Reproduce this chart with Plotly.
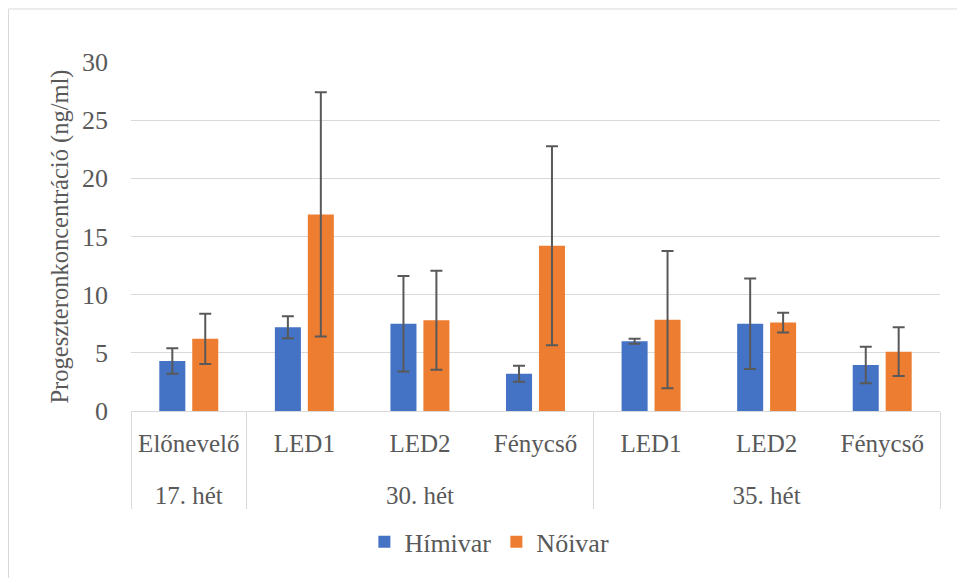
import plotly.graph_objects as go

# Groups (week) and light-source categories
weeks = ["17. hét", "30. hét", "30. hét", "30. hét", "35. hét", "35. hét", "35. hét"]
sources = ["Előnevelő", "LED1", "LED2", "Fénycső", "LED1", "LED2", "Fénycső"]

# Mean progesterone concentration (ng/ml) and standard deviations
male_mean = [4.3, 7.2, 7.5, 3.2, 6.0, 7.5, 3.95]
male_sd = [1.1, 0.95, 4.1, 0.68, 0.22, 3.88, 1.57]
female_mean = [6.2, 16.9, 7.8, 14.2, 7.85, 7.6, 5.1]
female_sd = [2.15, 10.5, 4.25, 8.55, 5.9, 0.85, 2.1]

y_ticks = [0, 5, 10, 15, 20, 25, 30]

FONT = "Liberation Serif, Times New Roman, serif"
TEXT = "#595959"
GRID = "#d9d9d9"
ERR = "#595959"
TICK_SIZE = 26
CAT_SIZE = 25

# the week row sits one line lower than the light-source row
x = [["<br>" + w for w in weeks], sources]

fig = go.Figure()
fig.add_trace(go.Bar(
    x=x, y=male_mean, name="Hímivar",
    marker=dict(color="#4472C4", line=dict(width=0)),
    error_y=dict(type="data", array=male_sd, visible=True,
                 color=ERR, thickness=2, width=6),
))
fig.add_trace(go.Bar(
    x=x, y=female_mean, name="Nőivar",
    marker=dict(color="#ED7D31", line=dict(width=0)),
    error_y=dict(type="data", array=female_sd, visible=True,
                 color=ERR, thickness=2, width=6),
))

W, H = 957, 578
L, R, T, B = 131, 17, 62, 164
pw, ph = W - L - R, H - T - B


def px_to_paper(px, py):
    return (px - L) / pw, (H - B - py) / ph


# light chart-area frame (top and left edges visible)
x0, y0 = px_to_paper(8.5, 8.5)
x1, y1 = px_to_paper(W + 5, H + 5)

fig.update_layout(
    width=W, height=H,
    margin=dict(l=L, r=R, t=T, b=B, pad=0),
    paper_bgcolor="white", plot_bgcolor="white",
    font=dict(family=FONT, size=TICK_SIZE, color=TEXT),
    barmode="group", bargap=0.43, bargroupgap=0.21,
    showlegend=True,
    legend=dict(orientation="h", x=0.443, xanchor="center",
                y=-0.375, yanchor="middle",
                font=dict(family=FONT, size=TICK_SIZE, color=TEXT),
                itemwidth=30, tracegroupgap=0),
    xaxis=dict(
        type="multicategory",
        showgrid=False, zeroline=False,
        showline=True, linecolor=GRID, linewidth=1,
        ticks="", showdividers=True, dividercolor=GRID, dividerwidth=1,
        ticklabelstandoff=10,
        tickfont=dict(family=FONT, size=CAT_SIZE, color=TEXT),
    ),
    yaxis=dict(
        range=[0, 30], tickvals=y_ticks, ticktext=[str(v) for v in y_ticks],
        showgrid=True, gridcolor=GRID, gridwidth=1,
        zeroline=False, showline=False, ticks="",
        ticklabelstandoff=22,
        tickfont=dict(family=FONT, size=TICK_SIZE, color=TEXT),
        title=dict(text="Progeszteronkoncentráció (ng/ml)",
                   font=dict(family=FONT, size=24.5, color=TEXT), standoff=6),
    ),
    shapes=[dict(type="rect", xref="paper", yref="paper",
                 x0=x0, y0=y0, x1=x1, y1=y1,
                 line=dict(color=GRID, width=1), layer="below")],
)

fig.write_html("out.html")
